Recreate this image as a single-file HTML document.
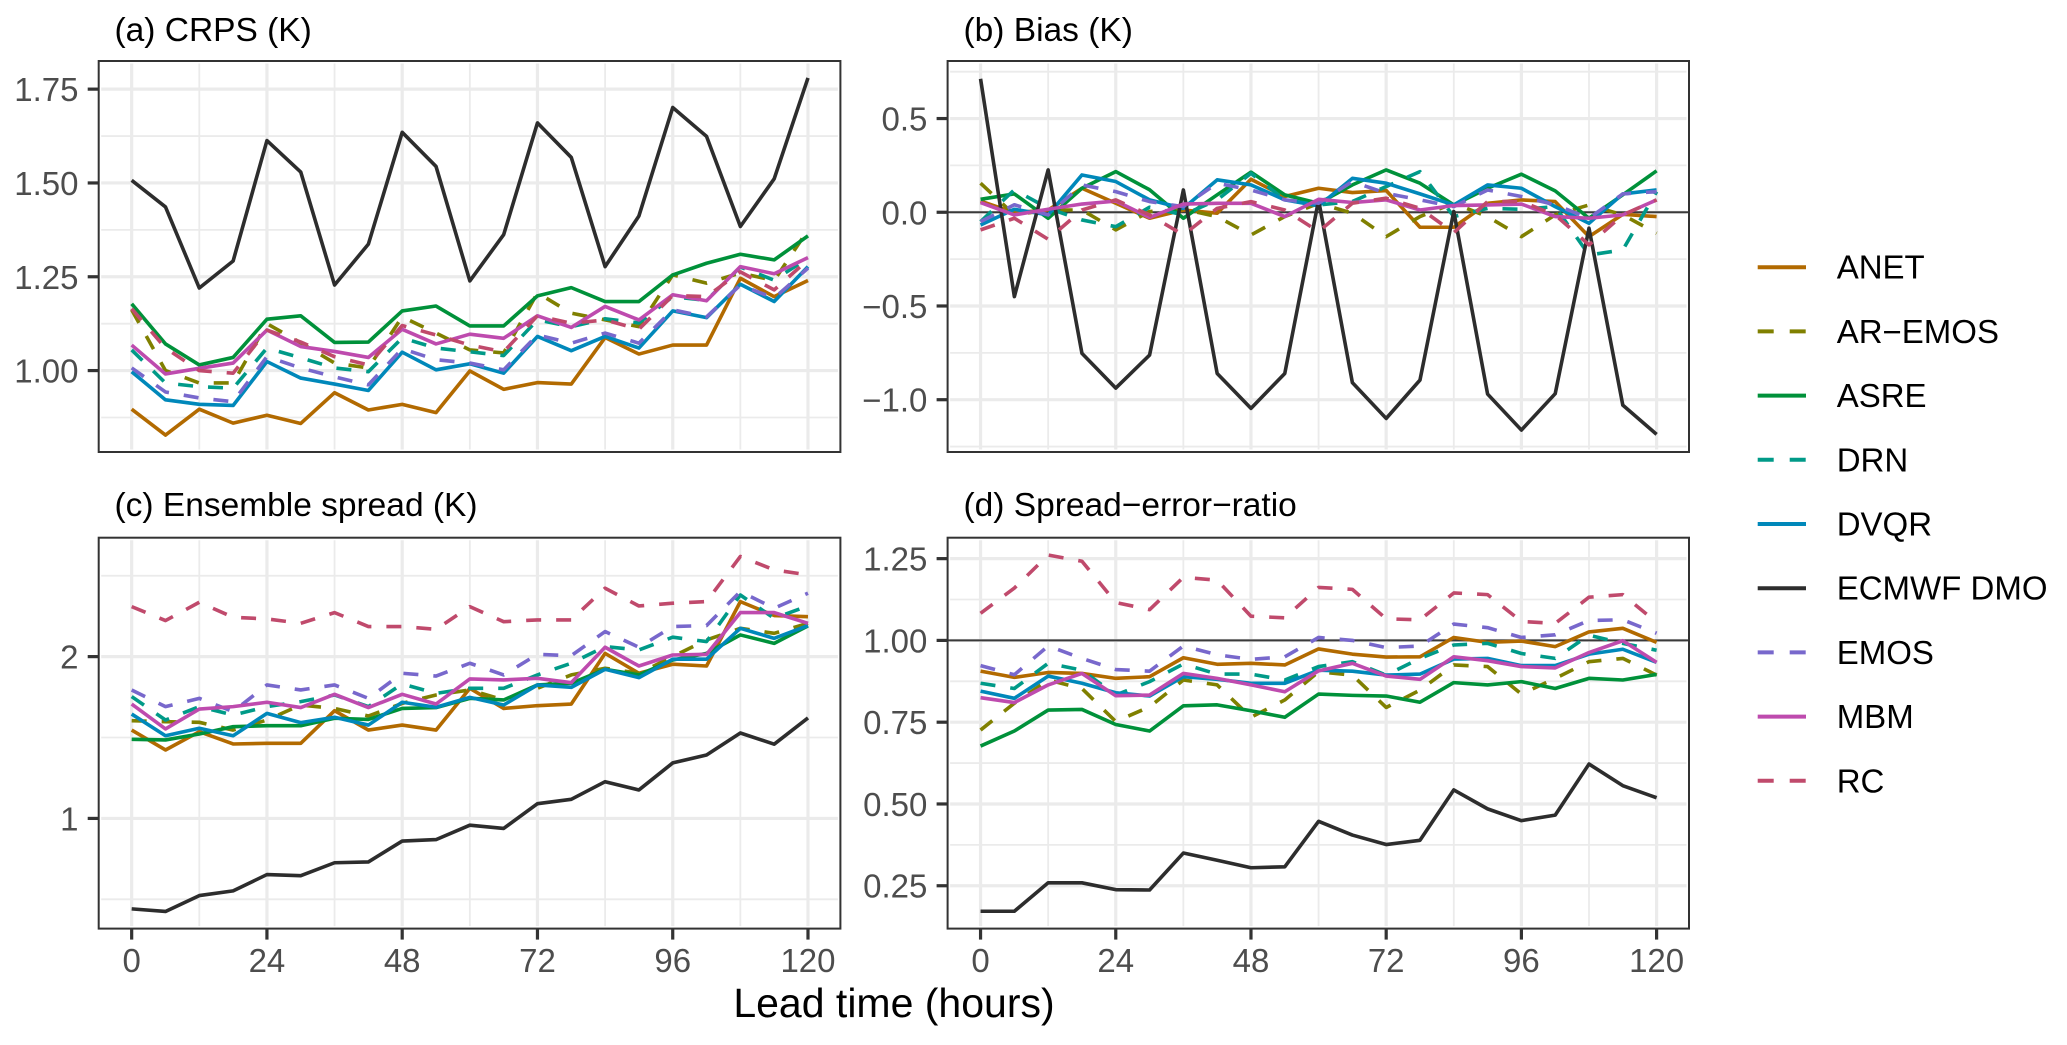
<!DOCTYPE html>
<html lang="en">
<head>
<meta charset="utf-8">
<title>Forecast verification by lead time</title>
<style>
html,body{margin:0;padding:0;background:#fff;}
body{width:2067px;height:1045px;overflow:hidden;}
svg{display:block;font-family:"Liberation Sans",Arial,sans-serif;}
</style>
</head>
<body>
<svg id="chart" xmlns="http://www.w3.org/2000/svg" width="2067" height="1045" viewBox="0 0 2067 1045">
  <rect x="0" y="0" width="2067" height="1045" fill="#ffffff"/>
  <g id="panels"></g>
  <text x="114.5" y="41" font-size="33.5" fill="#000">(a) CRPS (K)</text>
  <text x="963.5" y="41" font-size="33.5" fill="#000">(b) Bias (K)</text>
  <text x="114.5" y="516" font-size="33.5" fill="#000">(c) Ensemble spread (K)</text>
  <text x="963.5" y="516" font-size="33.5" fill="#000">(d) Spread−error−ratio</text>
  <text x="894" y="1017" font-size="41" text-anchor="middle" fill="#000">Lead time (hours)</text>
  <g font-size="33" fill="#000">
    <g><line x1="1757.7" x2="1806" y1="267.2" y2="267.2" stroke="#b26a00" stroke-width="4"/><text x="1836.7" y="278.7">ANET</text></g>
    <g><line x1="1757.7" x2="1806" y1="331.4" y2="331.4" stroke="#808000" stroke-width="4" stroke-dasharray="16 16"/><text x="1836.7" y="342.9">AR−EMOS</text></g>
    <g><line x1="1757.7" x2="1806" y1="395.6" y2="395.6" stroke="#00913a" stroke-width="4"/><text x="1836.7" y="407.1">ASRE</text></g>
    <g><line x1="1757.7" x2="1806" y1="459.8" y2="459.8" stroke="#009a88" stroke-width="4" stroke-dasharray="16 16"/><text x="1836.7" y="471.3">DRN</text></g>
    <g><line x1="1757.7" x2="1806" y1="524" y2="524" stroke="#0088ba" stroke-width="4"/><text x="1836.7" y="535.5">DVQR</text></g>
    <g><line x1="1757.7" x2="1806" y1="588.2" y2="588.2" stroke="#2d2d2d" stroke-width="4"/><text x="1836.7" y="599.7">ECMWF DMO</text></g>
    <g><line x1="1757.7" x2="1806" y1="652.4" y2="652.4" stroke="#7868cc" stroke-width="4" stroke-dasharray="16 16"/><text x="1836.7" y="663.9">EMOS</text></g>
    <g><line x1="1757.7" x2="1806" y1="716.6" y2="716.6" stroke="#be4bae" stroke-width="4"/><text x="1836.7" y="728.1">MBM</text></g>
    <g><line x1="1757.7" x2="1806" y1="780.8" y2="780.8" stroke="#c04a6c" stroke-width="4" stroke-dasharray="16 16"/><text x="1836.7" y="792.3">RC</text></g>
  </g>
</svg>
<script>
const leadTimes = [0,6,12,18,24,30,36,42,48,54,60,66,72,78,84,90,96,102,108,114,120];
const xMajorTicks = [0,24,48,72,96,120];
const xMinorTicks = [12,36,60,84,108];
const xTickLabels = ['0','24','48','72','96','120'];

const crpsAnet = [.897,.828,.897,.860,.881,.859,.941,.895,.910,.888,.999,.950,.968,.964,1.088,1.044,1.068,1.068,1.246,1.197,1.240];
const crpsArEmos = [1.162,1.0,.967,.967,1.125,1.074,1.02,1.007,1.143,1.10,1.055,1.047,1.207,1.153,1.135,1.117,1.255,1.233,1.26,1.24,1.375];
const crpsAsre = [1.178,1.071,1.015,1.035,1.137,1.146,1.075,1.076,1.159,1.172,1.119,1.119,1.199,1.221,1.184,1.184,1.255,1.286,1.31,1.295,1.359];
const crpsDrn = [1.055,.967,.957,.953,1.06,1.034,1.007,.997,1.087,1.06,1.05,1.04,1.135,1.117,1.138,1.127,1.197,1.187,1.276,1.241,1.30];
const crpsDvqr = [.997,.922,.910,.907,1.024,.98,.964,.947,1.049,1.002,1.018,.993,1.091,1.053,1.091,1.06,1.159,1.141,1.23,1.184,1.277];
const crpsEcmwf = [1.507,1.436,1.220,1.292,1.613,1.529,1.228,1.337,1.635,1.544,1.239,1.362,1.660,1.568,1.277,1.412,1.701,1.624,1.384,1.511,1.780];
const crpsEmos = [1.007,.943,.927,.917,1.037,1.007,.983,.962,1.058,1.029,1.02,1.002,1.095,1.073,1.10,1.073,1.162,1.143,1.228,1.193,1.273];
const crpsMbm = [1.068,.991,1.006,1.02,1.108,1.064,1.051,1.035,1.11,1.071,1.097,1.086,1.146,1.115,1.171,1.135,1.202,1.186,1.277,1.258,1.301];
const crpsRc = [1.165,1.06,1.0,.993,1.108,1.076,1.037,1.015,1.12,1.095,1.068,1.05,1.146,1.126,1.135,1.11,1.20,1.197,1.263,1.215,1.295];

const biasAnet = [.06,-.002,.012,.128,.048,-.032,.012,-.005,.176,.084,.128,.105,.116,-.08,-.08,.048,.066,.057,-.13,-.011,-.023];
const biasArEmos = [.155,-.014,.012,.012,-.094,.004,.016,-.023,-.121,-.023,.048,-.005,-.13,-.023,.048,-.023,-.13,-.014,.039,-.014,-.112];
const biasAsre = [.069,.098,-.032,.128,.217,.12,-.032,.093,.214,.093,.048,.146,.226,.155,.039,.128,.203,.114,-.032,.093,.221];
const biasDrn = [-.05,.12,.021,-.041,-.077,.027,-.014,.066,.208,.066,.039,.057,.137,.217,-.023,.021,.016,.03,-.228,-.201,.11];
const biasDvqr = [-.068,.016,-.014,.199,.164,.066,.021,.173,.146,.066,.034,.181,.155,.098,.039,.146,.128,.03,-.059,.098,.119];
const biasEcmwf = [.712,-.450,.226,-.753,-.938,-.762,.119,-.860,-1.046,-.860,.065,-.909,-1.1,-.895,.004,-.970,-1.162,-.968,-.085,-1.029,-1.185];
const biasEmos = [-.05,.04,-.014,.146,.11,.057,.03,.155,.119,.066,.048,.164,.101,.066,.03,.119,.084,.04,-.032,.098,.11];
const biasMbm = [.052,-.014,.016,.044,.06,-.028,.044,.048,.048,-.023,.069,.052,.066,.012,.036,.039,.044,-.023,-.032,-.014,.066];
const biasRc = [-.094,-.032,-.144,.012,.066,-.014,-.121,.021,.057,.012,-.103,.048,.075,.021,-.109,.057,.057,-.014,-.174,-.014,.066];

const spreadAnet = [1.546,1.423,1.536,1.46,1.464,1.464,1.666,1.546,1.577,1.546,1.804,1.68,1.697,1.707,2.02,1.897,1.953,1.942,2.34,2.254,2.247];
const spreadArEmos = [1.604,1.598,1.594,1.546,1.608,1.701,1.68,1.633,1.711,1.763,1.794,1.732,1.804,1.887,1.928,1.897,2.0,2.103,2.175,2.144,2.206];
const spreadAsre = [1.489,1.485,1.522,1.567,1.573,1.573,1.619,1.612,1.68,1.685,1.742,1.732,1.825,1.835,1.922,1.887,1.979,2.02,2.134,2.082,2.19];
const spreadDrn = [1.753,1.608,1.691,1.639,1.691,1.722,1.763,1.691,1.831,1.773,1.804,1.804,1.887,1.959,2.062,2.041,2.12,2.093,2.381,2.237,2.313];
const spreadDvqr = [1.645,1.511,1.557,1.511,1.649,1.592,1.625,1.577,1.718,1.687,1.748,1.701,1.825,1.81,1.922,1.87,1.984,1.984,2.175,2.113,2.192];
const spreadEcmwf = [.441,.425,.523,.552,.653,.646,.726,.731,.86,.869,.958,.938,1.091,1.118,1.227,1.176,1.343,1.392,1.528,1.459,1.621];
const spreadEmos = [1.794,1.691,1.742,1.66,1.825,1.794,1.825,1.742,1.897,1.88,1.959,1.887,2.014,2.006,2.155,2.058,2.186,2.192,2.402,2.299,2.392];
const spreadMbm = [1.707,1.553,1.676,1.691,1.718,1.685,1.767,1.685,1.767,1.707,1.862,1.856,1.866,1.839,2.058,1.942,2.01,2.014,2.272,2.272,2.206];
const spreadRc = [2.309,2.223,2.336,2.243,2.233,2.206,2.272,2.186,2.186,2.169,2.309,2.216,2.227,2.227,2.423,2.313,2.33,2.34,2.619,2.536,2.505];

const ratioAnet = [.906,.887,.902,.899,.884,.889,.947,.927,.93,.925,.974,.958,.949,.95,1.009,.994,.998,.981,1.026,1.037,.994];
const ratioArEmos = [.726,.808,.879,.853,.752,.797,.879,.864,.765,.818,.904,.894,.795,.848,.925,.92,.836,.884,.935,.945,.894];
const ratioAsre = [.677,.723,.787,.789,.743,.723,.8,.803,.785,.765,.836,.832,.83,.811,.871,.864,.874,.853,.884,.879,.896];
const ratioDrn = [.869,.853,.93,.909,.833,.874,.928,.897,.897,.879,.92,.935,.894,.945,.986,.991,.96,.945,1.016,.991,.97];
const ratioDvqr = [.845,.823,.891,.869,.84,.83,.889,.881,.869,.869,.909,.906,.894,.897,.943,.945,.923,.923,.958,.973,.933];
const ratioEcmwf = [.172,.172,.259,.259,.238,.237,.35,.328,.305,.308,.447,.405,.376,.389,.543,.485,.449,.466,.622,.556,.519];
const ratioEmos = [.923,.895,.983,.945,.911,.906,.983,.956,.942,.95,1.009,1.0,.978,.983,1.05,1.039,1.009,1.017,1.061,1.063,1.022];
const ratioMbm = [.825,.81,.864,.899,.831,.833,.899,.884,.864,.843,.907,.93,.891,.881,.95,.938,.92,.916,.963,.999,.933];
const ratioRc = [1.083,1.16,1.261,1.242,1.116,1.094,1.193,1.184,1.074,1.069,1.162,1.156,1.066,1.063,1.145,1.14,1.058,1.052,1.132,1.14,1.055];

const crpsTicks = [1,1.25,1.5,1.75];
const crpsTickLabels = ['1.00','1.25','1.50','1.75'];
const crpsMinor = [.875,1.125,1.375,1.625];
const biasTicks = [-1,-.5,0,.5];
const biasTickLabels = ['−1.0','−0.5','0.0','0.5'];
const biasMinor = [-1.25,-.75,-.25,.25,.75];
const spreadTicks = [1,2];
const spreadTickLabels = ['1','2'];
const spreadMinor = [.5,1.5,2.5];
const ratioTicks = [.25,.5,.75,1,1.25];
const ratioTickLabels = ['0.25','0.50','0.75','1.00','1.25'];
const ratioMinor = [.375,.625,.875,1.125];

const seriesNames = ['anet','ar-emos','asre','drn','dvqr','ecmwf-dmo','emos','mbm','rc'];
const seriesColors = ['#b26a00','#808000','#00913a','#009a88','#0088ba','#2d2d2d','#7868cc','#be4bae','#c04a6c'];
const seriesDashed = [false,true,false,true,false,false,true,false,true];

const xDomain = [-5.85,125.75];

const panels = [
  {id:'crps',left:98.7,right:840.4,top:61,bottom:452,yDomain:[.783,1.825],ticks:crpsTicks,labels:crpsTickLabels,minor:crpsMinor,refLine:null,xAxis:false,
   data:[crpsAnet,crpsArEmos,crpsAsre,crpsDrn,crpsDvqr,crpsEcmwf,crpsEmos,crpsMbm,crpsRc]},
  {id:'bias',left:947.6,right:1689,top:61,bottom:452,yDomain:[-1.279,.807],ticks:biasTicks,labels:biasTickLabels,minor:biasMinor,refLine:0,xAxis:false,
   data:[biasAnet,biasArEmos,biasAsre,biasDrn,biasDvqr,biasEcmwf,biasEmos,biasMbm,biasRc]},
  {id:'spread',left:98.7,right:840.4,top:537.7,bottom:928.6,yDomain:[.319,2.735],ticks:spreadTicks,labels:spreadTickLabels,minor:spreadMinor,refLine:null,xAxis:true,
   data:[spreadAnet,spreadArEmos,spreadAsre,spreadDrn,spreadDvqr,spreadEcmwf,spreadEmos,spreadMbm,spreadRc]},
  {id:'ratio',left:947.6,right:1689,top:537.7,bottom:928.6,yDomain:[.119,1.314],ticks:ratioTicks,labels:ratioTickLabels,minor:ratioMinor,refLine:1,xAxis:true,
   data:[ratioAnet,ratioArEmos,ratioAsre,ratioDrn,ratioDvqr,ratioEcmwf,ratioEmos,ratioMbm,ratioRc]}
];

const NS = 'http://www.w3.org/2000/svg';
const root = document.getElementById('panels');

function makeLine(parent, x1, y1, x2, y2, color, width) {
  const el = document.createElementNS(NS, 'line');
  el.setAttribute('x1', x1);
  el.setAttribute('y1', y1);
  el.setAttribute('x2', x2);
  el.setAttribute('y2', y2);
  el.setAttribute('stroke', color);
  el.setAttribute('stroke-width', width);
  parent.appendChild(el);
  return el;
}

function makeLabel(parent, x, y, anchor, str) {
  const el = document.createElementNS(NS, 'text');
  el.setAttribute('x', x);
  el.setAttribute('y', y);
  el.setAttribute('text-anchor', anchor);
  el.setAttribute('font-size', '33');
  el.setAttribute('fill', '#4d4d4d');
  el.textContent = str;
  parent.appendChild(el);
  return el;
}

panels.forEach(function (p) {
  const xScale = function (t) {
    return p.left + (t - xDomain[0]) / (xDomain[1] - xDomain[0]) * (p.right - p.left);
  };
  const yScale = function (v) {
    return p.bottom - (v - p.yDomain[0]) / (p.yDomain[1] - p.yDomain[0]) * (p.bottom - p.top);
  };
  const inset = 2.5;

  const g = document.createElementNS(NS, 'g');
  
  
  root.appendChild(g);

  const grid = document.createElementNS(NS, 'g');
  
  
  g.appendChild(grid);
  p.minor.forEach(function (v) {
    makeLine(grid, p.left + inset, yScale(v), p.right - inset, yScale(v), '#ebebeb', 1.8);
  });
  xMinorTicks.forEach(function (t) {
    makeLine(grid, xScale(t), p.top + inset, xScale(t), p.bottom - inset, '#ebebeb', 1.8);
  });
  p.ticks.forEach(function (v) {
    makeLine(grid, p.left + inset, yScale(v), p.right - inset, yScale(v), '#ebebeb', 3.2);
  });
  xMajorTicks.forEach(function (t) {
    makeLine(grid, xScale(t), p.top + inset, xScale(t), p.bottom - inset, '#ebebeb', 3.2);
  });

  if (p.refLine !== null) {
    const ref = makeLine(g, p.left, yScale(p.refLine), p.right, yScale(p.refLine), '#3a3a3a', 2);
    
    
  }

  p.data.forEach(function (values, s) {
    const path = document.createElementNS(NS, 'path');
    const d = values.map(function (v, i) {
      return (i ? 'L' : 'M') + xScale(leadTimes[i]).toFixed(2) + ' ' + yScale(v).toFixed(2);
    }).join('');
    path.setAttribute('d', d);
    path.setAttribute('fill', 'none');
    path.setAttribute('stroke', seriesColors[s]);
    path.setAttribute('stroke-width', '3.6');
    path.setAttribute('stroke-linejoin', 'round');
    if (seriesDashed[s]) {
      path.setAttribute('stroke-dasharray', '15 15');
    }
    
    
    g.appendChild(path);
  });

  const border = document.createElementNS(NS, 'rect');
  border.setAttribute('x', p.left);
  border.setAttribute('y', p.top);
  border.setAttribute('width', p.right - p.left);
  border.setAttribute('height', p.bottom - p.top);
  border.setAttribute('fill', 'none');
  border.setAttribute('stroke', '#333333');
  border.setAttribute('stroke-width', '2');
  
  
  g.appendChild(border);

  const yAxis = document.createElementNS(NS, 'g');
  
  
  g.appendChild(yAxis);
  p.ticks.forEach(function (v, i) {
    makeLine(yAxis, p.left - 11, yScale(v), p.left, yScale(v), '#333333', 3.2);
    makeLabel(yAxis, p.left - 20.2, yScale(v) + 12, 'end', p.labels[i]);
  });

  if (p.xAxis) {
    const xAxis = document.createElementNS(NS, 'g');
    
    
    g.appendChild(xAxis);
    xMajorTicks.forEach(function (t, i) {
      makeLine(xAxis, xScale(t), p.bottom, xScale(t), p.bottom + 11, '#333333', 3.2);
      makeLabel(xAxis, xScale(t), p.bottom + 43.5, 'middle', xTickLabels[i]);
    });
  }
});
</script>
</body>
</html>
